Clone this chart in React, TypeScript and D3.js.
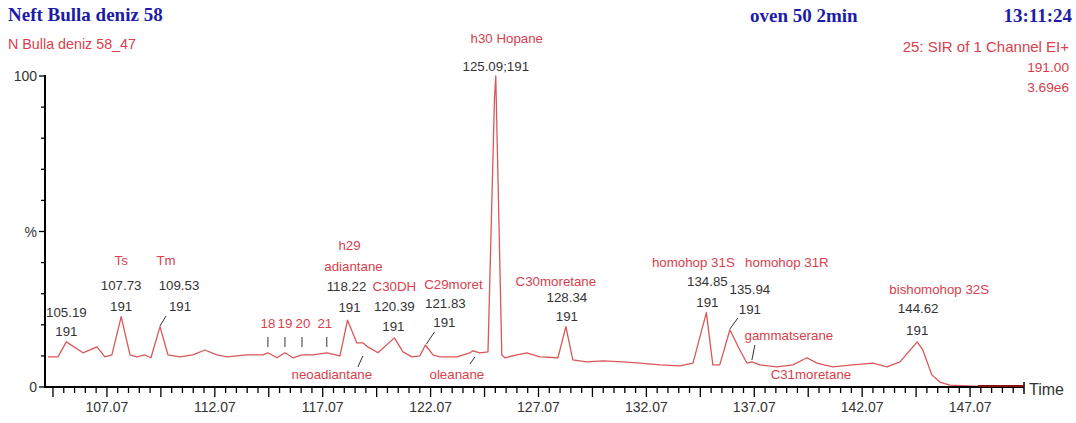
import * as d3 from "d3";

// chromatogram trace (time in min, relative intensity %)
const traceTime = [
  104.34, 104.8, 105.19, 105.96, 106.61, 106.98, 107.3, 107.73, 108.14, 108.46,
  108.83, 109.11, 109.53, 109.9, 110.45, 111.05, 111.61, 112.17, 112.63, 113.56,
  114.3, 114.53, 114.95, 115.32, 115.69, 116.11, 116.62, 117.26, 117.87, 118.22,
  118.65, 118.93, 119.16, 119.63, 120.39, 120.79, 121.2, 121.57, 121.83, 122.18,
  122.5, 123.29, 123.89, 124.03, 124.35, 124.73, 125.03, 125.09, 125.37, 125.51,
  126.07, 126.53, 127.13, 127.97, 128.34, 128.66, 129.31, 130.05, 130.98, 131.77,
  132.7, 133.62, 134.23, 134.85, 135.15, 135.47, 135.94, 136.4, 136.73, 136.96,
  137.33, 138.12, 138.86, 139.51, 139.97, 140.71, 141.64, 142.57, 143.22, 143.82,
  144.62, 144.88, 145.3, 145.67, 146.13, 147.29, 149.56,
];
const traceIntensity = [
  9.7, 9.7, 14.5, 11.0, 12.9, 9.7, 10.3, 22.6, 10.3, 9.7,
  10.3, 9.4, 19.4, 10.3, 9.7, 10.3, 11.9, 10.3, 9.7, 10.3,
  10.3, 11.0, 9.4, 11.0, 9.4, 10.3, 10.3, 11.0, 10.0, 21.5,
  14.2, 14.2, 12.9, 11.0, 15.8, 11.3, 9.7, 10.0, 13.5, 10.3,
  9.7, 9.7, 11.0, 11.6, 11.0, 11.3, 92.6, 100, 10.3, 9.4,
  10.3, 11.0, 9.7, 9.4, 19.4, 8.7, 8.1, 8.4, 8.1, 7.7,
  7.1, 6.8, 7.7, 23.9, 7.1, 7.1, 18.4, 11.9, 7.7, 8.1,
  7.1, 6.5, 7.1, 9.4, 7.7, 6.5, 7.1, 7.7, 6.5, 8.1,
  14.5, 11.9, 3.9, 1.6, 0.6, 0.3, 0.3,
];

// labelled peaks
const peakTimes = [105.19, 107.73, 109.53, 118.22, 120.39, 121.83, 125.09, 128.34, 134.85, 135.94, 144.62];
const peakNames = [
  [],
  ["Ts"],
  ["Tm"],
  ["h29", "adiantane"],
  ["C30DH"],
  ["C29moret"],
  ["h30 Hopane"],
  ["C30moretane"],
  ["homohop 31S"],
  ["homohop 31R"],
  ["bishomohop 32S"],
];
const ionMass = "191";

// small numbered markers
const markerLabels = ["18", "19", "20", "21"];
const markerTimes = [114.53, 115.32, 116.11, 117.26];

// other named compounds
const otherNames = ["neoadiantane", "oleanane", "gammatserane", "C31moretane"];
const otherTimes = [118.93, 124.03, 136.96, 139.51];

const xLabelTicks = [107.07, 112.07, 117.07, 122.07, 127.07, 132.07, 137.07, 142.07, 147.07];
const yTickValues = [0, 10, 20, 30, 40, 50, 60, 70, 80, 90, 100];
const yTickLabels = { 0: "0", 50: "%", 100: "100" };

// label layout (pixel offsets from peak x, absolute y centres)
const peakLayout = [
  { names: [], num: [0, 312], ion: [0, 331] },
  { names: [[0, 260]], num: [0, 285], ion: [0, 306] },
  { names: [[6, 260]], num: [19, 285], ion: [20, 306], leader: [6, 316, 0, 326] },
  { names: [[2, 245], [6, 266]], num: [-1, 286], ion: [2, 307] },
  { names: [[0, 286]], num: [0, 306], ion: [-1, 326] },
  { names: [[28, 284]], num: [20, 303], ion: [19, 322], leader: [9, 332, 1, 344] },
  { names: [[11, 38]], num: [0, 66], inline: true },
  { names: [[-10, 281]], num: [1, 297], ion: [1, 316] },
  { names: [[-13, 262]], num: [1, 281], ion: [1, 302] },
  { names: [[57, 262]], num: [20, 289], ion: [20, 309], leader: [8, 318, 0, 329] },
  { names: [[22, 289]], num: [1, 308], ion: [0, 330] },
];
const markerLayout = [0, 0, 1, -2];
const otherLayout = [
  { label: [-31, 374], leader: [-5, 367, 0, 356] },
  { label: [-16, 374], leader: [-3, 364, 2, 357] },
  { label: [37, 335], leader: [3, 345, 0, 360] },
  { label: [4, 374] },
];

const W = 1076;
const H = 423;
const sans = "'Liberation Sans', Arial, sans-serif";
const serif = "'Liberation Serif', 'Times New Roman', serif";
const red = "#d9404c";
const traceColor = "#d95757";
const blue = "#1c1ca6";
const dark = "#333";

export default function App() {
  const x = d3.scaleLinear().domain([104.2, 149.57]).range([45, 1024]);
  const y = d3.scaleLinear().domain([0, 100]).range([387, 76]);

  const points = traceTime.map((t, i) => [t, traceIntensity[i]]);
  const line = d3
    .line()
    .x((d) => x(d[0]))
    .y((d) => y(d[1]));

  const minorTicks = d3.range(0, 91).map((i) => 104.57 + i * 0.5).filter((t) => t <= 149.3);

  return (
    <svg
      width={W}
      height={H}
      style={{ position: "absolute", left: 0, top: 0, background: "#fff" }}
    >
      {/* header */}
      <text x={8} y={14} dominantBaseline="central" fontFamily={serif} fontWeight="bold" fontSize={19} fill={blue}>
        Neft Bulla deniz 58
      </text>
      <text x={750} y={15} dominantBaseline="central" fontFamily={serif} fontWeight="bold" fontSize={19} fill={blue}>
        oven 50 2min
      </text>
      <text x={1072} y={15} textAnchor="end" dominantBaseline="central" fontFamily={serif} fontWeight="bold" fontSize={19} fill={blue}>
        13:11:24
      </text>
      <text x={8} y={44} dominantBaseline="central" fontFamily={sans} fontSize={14.3} fill={red}>
        N Bulla deniz 58_47
      </text>
      <g fontFamily={sans} fill={red} textAnchor="end" dominantBaseline="central">
        <text x={1069} y={46} fontSize={15}>25: SIR of 1 Channel EI+</text>
        <text x={1069} y={67} fontSize={13.7}>191.00</text>
        <text x={1069} y={87} fontSize={13.7}>3.69e6</text>
      </g>

      {/* trace */}
      <path d={line(points)} fill="none" stroke={traceColor} strokeWidth={1.3} strokeLinejoin="round" />

      {/* axes */}
      <line x1={45} x2={45} y1={75} y2={388} stroke="#000" strokeWidth={2} />
      <line x1={44} x2={1024} y1={387} y2={387} stroke="#000" strokeWidth={2} />
      <line x1={1024} x2={1024} y1={382} y2={394} stroke="#000" strokeWidth={1.5} />
      <line x1={978} x2={1024} y1={386} y2={386} stroke="#8a1010" strokeWidth={1.8} />
      {yTickValues.map((v) => (
        <line key={v} x1={v % 50 === 0 ? 39 : 41} x2={45} y1={y(v)} y2={y(v)} stroke="#000" strokeWidth={1.3} />
      ))}
      {Object.entries(yTickLabels).map(([v, s]) => (
        <text key={v} x={37} y={y(+v)} textAnchor="end" dominantBaseline="central" fontFamily={sans} fontSize={14} fill={dark}>
          {s}
        </text>
      ))}
      {minorTicks.map((t, i) => (
        <line key={i} x1={x(t)} x2={x(t)} y1={388} y2={i % 5 === 0 ? 397 : 393} stroke="#000" strokeWidth={1.3} />
      ))}
      {xLabelTicks.map((t) => (
        <text key={t} x={x(t)} y={407} textAnchor="middle" dominantBaseline="central" fontFamily={sans} fontSize={14} fill={dark}>
          {t.toFixed(2)}
        </text>
      ))}
      <text x={1029} y={389} dominantBaseline="central" fontFamily={sans} fontSize={16} fill={dark}>
        Time
      </text>

      {/* peak annotations */}
      <g fontFamily={sans} fontSize={13.3} textAnchor="middle" dominantBaseline="central">
        {peakTimes.map((t, i) => {
          const px = x(t);
          const L = peakLayout[i];
          return (
            <g key={t}>
              {peakNames[i].map((n, j) => (
                <text key={n} x={px + L.names[j][0]} y={L.names[j][1]} fill={red}>
                  {n}
                </text>
              ))}
              <text x={px + L.num[0]} y={L.num[1]} fill={dark}>
                {L.inline ? `${t.toFixed(2)};${ionMass}` : t.toFixed(2)}
              </text>
              {L.ion && (
                <text x={px + L.ion[0]} y={L.ion[1]} fill={dark}>
                  {ionMass}
                </text>
              )}
              {L.leader && (
                <line
                  x1={px + L.leader[0]}
                  y1={L.leader[1]}
                  x2={px + L.leader[2]}
                  y2={L.leader[3]}
                  stroke={dark}
                  strokeWidth={1}
                />
              )}
            </g>
          );
        })}
        {markerTimes.map((t, i) => (
          <g key={t}>
            <text x={x(t) + markerLayout[i]} y={323} fill={red}>
              {markerLabels[i]}
            </text>
            <line x1={x(t)} x2={x(t)} y1={337} y2={347} stroke={dark} strokeWidth={1} />
          </g>
        ))}
        {otherTimes.map((t, i) => {
          const px = x(t);
          const L = otherLayout[i];
          return (
            <g key={t}>
              <text x={px + L.label[0]} y={L.label[1]} fill={red}>
                {otherNames[i]}
              </text>
              {L.leader && (
                <line
                  x1={px + L.leader[0]}
                  y1={L.leader[1]}
                  x2={px + L.leader[2]}
                  y2={L.leader[3]}
                  stroke={dark}
                  strokeWidth={1}
                />
              )}
            </g>
          );
        })}
      </g>
    </svg>
  );
}
